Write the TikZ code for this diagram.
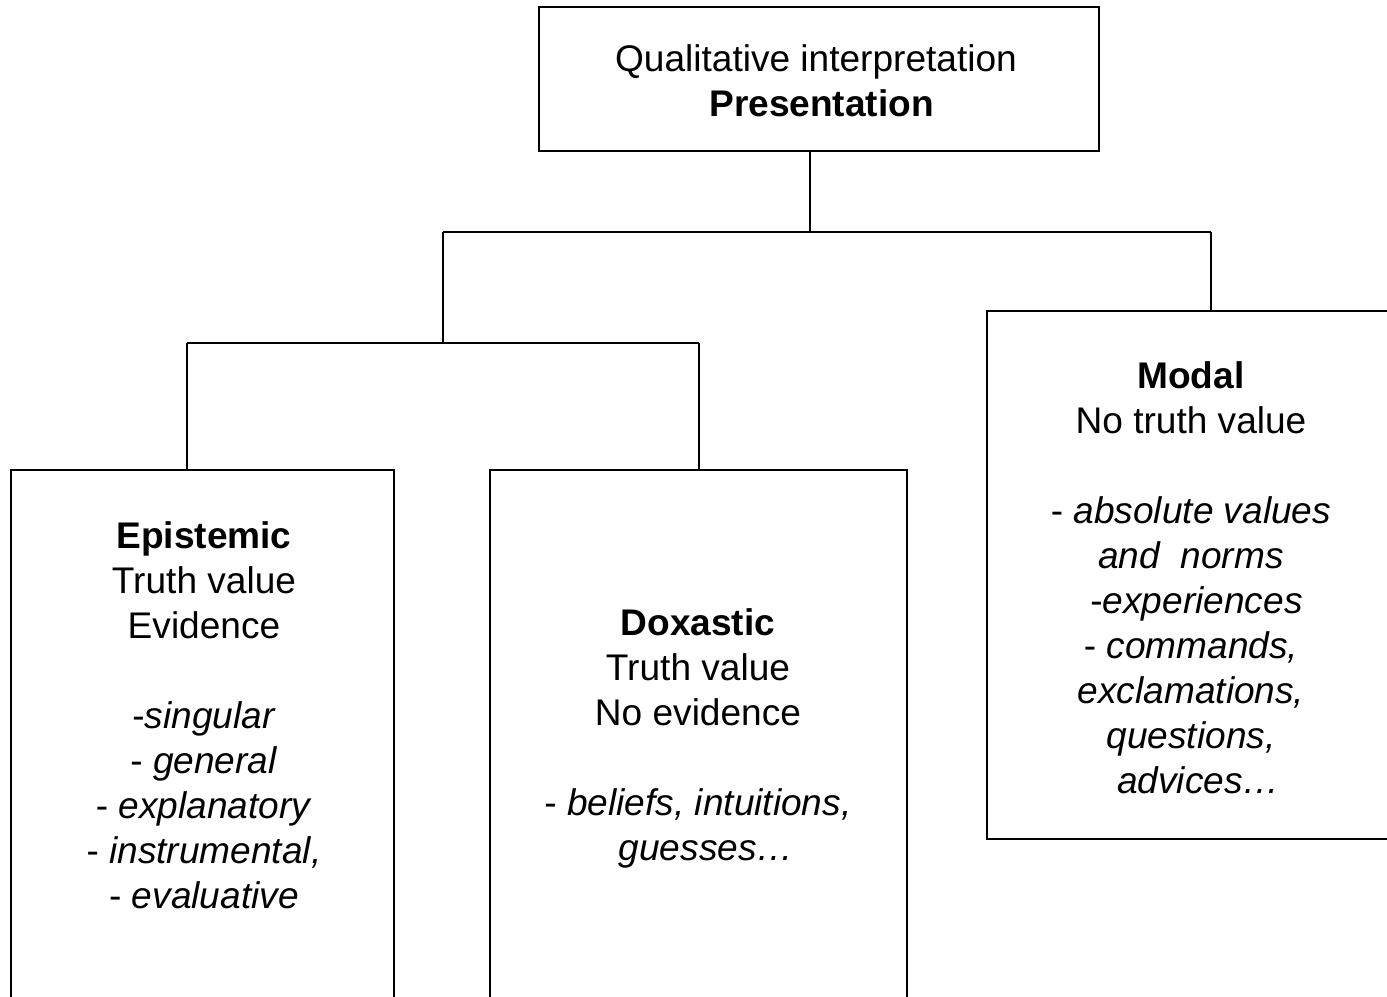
\documentclass[tikz,border=0pt]{standalone}
\usepackage{fontspec}
\setmainfont{Liberation Sans}
\begin{document}
\begin{tikzpicture}[x=0.02cm, y=-0.02cm,
  box/.style={draw, line width=1.4pt, inner sep=0pt, outer sep=0pt},
  label/.style={align=center, inner sep=0pt,
    font=\fontsize{21.1pt}{25.6pt}\selectfont},
  link/.style={line width=1.4pt}]
  % page frame: boxes running past it are cut off
  \useasboundingbox (0,0) rectangle (1387,997);
  \clip (0,0) rectangle (1387,997);

  % boxes
  \node[box, minimum width=11.2cm, minimum height=2.88cm] (top) at (819,79) {};
  \node[box, minimum width=7.66cm, minimum height=12.6cm] (epi) at (202.5,785) {};
  \node[box, minimum width=8.34cm, minimum height=12.6cm] (dox) at (698.5,785) {};
  \node[box, minimum width=9.26cm, minimum height=10.56cm] (mod) at (1218.5,575) {};

  % texts
  \node[label] (toptext) at (816,81) {Qualitative interpretation\\\hspace*{0.3em}\textbf{Presentation}};
  \node[label] (epitext) at (204,715) {\textbf{Epistemic}\\Truth value\\Evidence\\~\\
    -\textit{singular}\\- \textit{general}\\- \textit{explanatory}\\
    - \textit{instrumental,}\\- \textit{evaluative}};
  \node[label] (doxtext) at (698,738) {\textbf{Doxastic}\\Truth value\\No evidence\\~\\
    - \textit{beliefs, intuitions,}\\\hspace*{0.45em}\textit{guesses…}};
  \node[label] (modtext) at (1191,578) {\textbf{Modal}\\No truth value\\~\\
    - \textit{absolute values}\\\textit{and~~norms}\\\hspace*{0.3em}-\textit{experiences}\\
    - \textit{commands,}\\\textit{exclamations,}\\\textit{questions,}\\\hspace*{0.4em}\textit{advices…}};

  % junction points of the tree
  \coordinate (hL) at (443,232);
  \coordinate (hR) at (1211,232);
  \coordinate (hM) at (810,232);
  \coordinate (sL) at (187,343);
  \coordinate (sM) at (443,343);
  \coordinate (sR) at (699,343);

  % connectors
  \draw[link] (top.south -| hM) -- (hM);
  \draw[link] (hL) -- (hR);
  \draw[link] (hR) -- (hR |- mod.north);
  \draw[link] (hL) -- (sM);
  \draw[link] (sL) -- (sR);
  \draw[link] (sL) -- (sL |- epi.north);
  \draw[link] (sR) -- (sR |- dox.north);
\end{tikzpicture}
\end{document}
